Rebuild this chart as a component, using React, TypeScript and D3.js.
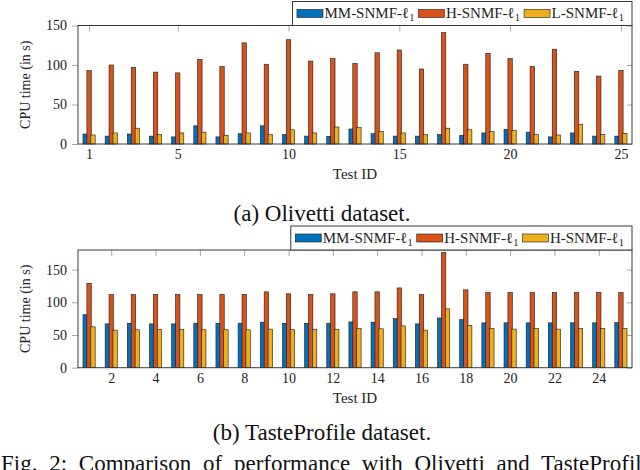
import React, { useEffect, useRef } from 'react';
import * as d3 from 'd3';

const testIds = [1, 2, 3, 4, 5, 6, 7, 8, 9, 10, 11, 12, 13, 14, 15, 16, 17, 18, 19, 20, 21, 22, 23, 24, 25];

// (a) Olivetti
const olivettiMM = [12.6, 10, 12.6, 10, 9, 23, 9, 13, 23, 12, 10, 9.7, 19, 13, 10, 10, 12, 11, 14, 18.5, 15, 9, 14, 10, 10];
const olivettiH = [93, 100, 97, 91, 90, 107, 98, 128, 101, 132, 105, 108, 102, 115.5, 119, 95, 141, 101, 114.6, 108, 98, 120, 92, 86, 93];
const olivettiL = [11.4, 14, 20, 12, 14, 15, 11, 14, 12, 18, 14, 21.5, 21, 16, 14, 12, 20, 18, 16, 17, 12, 11.4, 25, 12, 13.5];
const olivettiLabels = ['MM-SNMF-', 'H-SNMF-', 'L-SNMF-'];
const olivettiXTicks = [1, 5, 10, 15, 20, 25];
const olivettiYTicks = [0, 50, 100, 150];

// (b) TasteProfile
const tasteMM = [81, 67, 68, 67, 67, 68, 68, 68, 69.6, 68, 68, 68, 70, 69.6, 75, 67, 76, 73.7, 68.6, 68.6, 68.6, 68.6, 68.6, 68.6, 69];
const tasteH = [129, 112, 112, 112, 112, 112, 112, 112, 116, 113, 112, 113, 116, 116, 122, 112, 176, 119, 115, 115, 115, 115, 115, 115, 115];
const tasteL = [62.5, 57.5, 58, 58.5, 58.5, 58, 58, 58, 59, 58.5, 58.5, 58.5, 60, 59.5, 64, 57.5, 90, 64.6, 60, 59, 60, 59, 60, 60, 60];
const tasteLabels = ['MM-SNMF-', 'H-SNMF-', 'H-SNMF-'];
const tasteXTicks = [2, 4, 6, 8, 10, 12, 14, 16, 18, 20, 22, 24];
const tasteYTicks = [0, 50, 100, 150];

const colors = ['#0072BD', '#D95319', '#EDB120'];
const font = '"Liberation Serif", "Times New Roman", "DejaVu Serif", serif';
const tickGray = '#a8a8a8';
const frameColor = '#3a3a3a';

const drawPanel = (svg, cfg) => {
  const left = 78;
  const right = 632;
  const x = d3.scaleLinear().domain([0.5, 25.5]).range([left, right]);
  const y = d3.scaleLinear().domain([0, cfg.yMax]).range([cfg.bottom, cfg.top]);
  const g = svg.append('g');

  const styleAxis = (ax) => {
    ax.attr('font-family', font).attr('font-size', 14);
    ax.select('.domain').remove();
    ax.selectAll('.tick line').attr('stroke', tickGray);
    ax.selectAll('.tick text').attr('fill', '#222');
  };

  // inner ticks (drawn before the bars)
  const xb = g.append('g').attr('transform', `translate(0,${cfg.bottom})`)
    .call(d3.axisBottom(x).tickValues(cfg.xTicks).tickSizeInner(-5).tickSizeOuter(0).tickPadding(5.5).tickFormat(d3.format('d')));
  styleAxis(xb);
  const xt = g.append('g').attr('transform', `translate(0,${cfg.top})`)
    .call(d3.axisTop(x).tickValues(cfg.xTicks).tickSizeInner(-6).tickSizeOuter(0).tickFormat(() => ''));
  styleAxis(xt);
  const yl = g.append('g').attr('transform', `translate(${left},0)`)
    .call(d3.axisLeft(y).tickValues(cfg.yTicks).tickSizeInner(6).tickSizeOuter(0).tickPadding(5));
  styleAxis(yl);
  const yr = g.append('g').attr('transform', `translate(${right},0)`)
    .call(d3.axisRight(y).tickValues(cfg.yTicks).tickSizeInner(-5).tickSizeOuter(0).tickFormat(() => ''));
  styleAxis(yr);

  const barW = 4.4;
  const shifts = [-3.9, 0, 3.9];
  cfg.series.forEach((vals, si) => {
    g.append('g').selectAll('rect').data(vals).join('rect')
      .attr('x', (d, i) => x(testIds[i]) + shifts[si] - barW / 2)
      .attr('y', (d) => y(d))
      .attr('width', barW)
      .attr('height', (d) => y(0) - y(d))
      .attr('fill', colors[si])
      .attr('stroke', '#1a1a1a')
      .attr('stroke-width', 0.6);
  });

  g.append('rect')
    .attr('x', left).attr('y', cfg.top)
    .attr('width', right - left).attr('height', cfg.bottom - cfg.top)
    .attr('fill', 'none').attr('stroke', frameColor).attr('stroke-width', 1);

  g.append('text')
    .attr('transform', `translate(30,${(cfg.top + cfg.bottom) / 2}) rotate(-90)`)
    .attr('text-anchor', 'middle')
    .attr('font-family', font).attr('font-size', 14).attr('fill', '#222')
    .text('CPU time (in s)');

  g.append('text')
    .attr('x', (left + right) / 2).attr('y', cfg.bottom + 35)
    .attr('text-anchor', 'middle')
    .attr('font-family', font).attr('font-size', 15).attr('fill', '#222')
    .text('Test ID');

  // legend, anchored to the right edge of the frame
  const lg = g.append('g');
  const boxTop = cfg.top - 24;
  let cx = 4.5;
  cfg.labels.forEach((lab, i) => {
    lg.append('rect').attr('x', cx).attr('y', boxTop + 8).attr('width', 26).attr('height', 8)
      .attr('fill', colors[i]).attr('stroke', '#1a1a1a').attr('stroke-width', 0.6);
    const t = lg.append('text').attr('x', cx + 27.5).attr('y', boxTop + 16.5)
      .attr('font-family', font).attr('font-size', 15).attr('fill', '#222');
    t.append('tspan').text(lab);
    t.append('tspan').text('\u2113');
    t.append('tspan').attr('font-size', 10.5).attr('dy', 3).text('1');
    const w = (t.node() as SVGTextElement).getComputedTextLength();
    cx += 27.5 + w + 4;
  });
  const boxW = cx + 4;
  lg.attr('transform', `translate(${right - boxW},0)`);
  lg.insert('rect', ':first-child')
    .attr('x', 0).attr('y', boxTop).attr('width', boxW).attr('height', 24)
    .attr('fill', '#fff').attr('stroke', frameColor).attr('stroke-width', 1);
};

const App = () => {
  const ref = useRef<SVGSVGElement | null>(null);

  useEffect(() => {
    if (!ref.current) return;
    const svg = d3.select(ref.current);
    svg.selectAll('*').remove();

    drawPanel(svg, {
      top: 25.5, bottom: 144, yMax: 150,
      xTicks: olivettiXTicks, yTicks: olivettiYTicks,
      series: [olivettiMM, olivettiH, olivettiL], labels: olivettiLabels,
    });
    drawPanel(svg, {
      top: 250, bottom: 367.7, yMax: 180,
      xTicks: tasteXTicks, yTicks: tasteYTicks,
      series: [tasteMM, tasteH, tasteL], labels: tasteLabels,
    });

    svg.append('text').attr('x', 322).attr('y', 221).attr('text-anchor', 'middle')
      .attr('font-family', font).attr('font-size', 23).attr('fill', '#111')
      .text('(a) Olivetti dataset.');
    svg.append('text').attr('x', 322).attr('y', 440).attr('text-anchor', 'middle')
      .attr('font-family', font).attr('font-size', 23).attr('fill', '#111')
      .text('(b) TasteProfile dataset.');
    // figure caption, cut by the bottom edge as in the source page
    svg.append('text').attr('x', 1).attr('y', 471)
      .attr('font-family', font).attr('font-size', 23).attr('fill', '#111')
      .attr('word-spacing', 6)
      .text('Fig. 2: Comparison of performance with Olivetti and TasteProfile datasets.');
  }, []);

  return (
    <svg
      ref={ref}
      width={640}
      height={470}
      style={{ position: 'absolute', left: 0, top: 0, background: '#fff' }}
    />
  );
};

export default App;
